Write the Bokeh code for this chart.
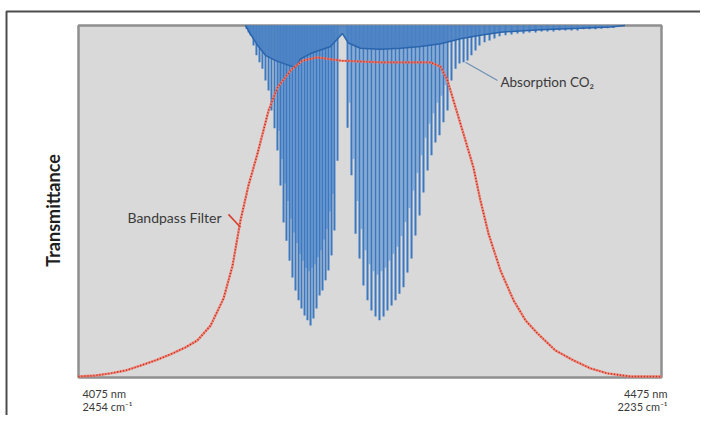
import numpy as np
from bokeh.plotting import figure
from bokeh.models import Range1d, Label
from bokeh.embed import file_html
from bokeh.resources import INLINE

# ---- Bandpass filter transmission curve (wavelength in nm, transmittance 0..1)
filter_nm = [4075.0, 4086.7, 4097.0, 4107.2, 4117.5, 4127.8, 4138.1, 4148.4, 4156.6, 4165.6,
             4174.5, 4180.7, 4186.1, 4191.6, 4197.8, 4205.4, 4211.5, 4220.5, 4228.7, 4239.0,
             4254.8, 4282.2, 4316.5, 4323.4, 4328.2, 4332.3, 4339.1, 4346.0, 4350.8, 4356.3,
             4364.5, 4373.5, 4381.7, 4389.9, 4402.3, 4414.6, 4426.3, 4437.9, 4453.7, 4475.0]
filter_T = [0.000, 0.003, 0.009, 0.017, 0.031, 0.046, 0.063, 0.083, 0.103, 0.145,
            0.222, 0.316, 0.444, 0.544, 0.635, 0.758, 0.823, 0.872, 0.900, 0.909,
            0.900, 0.895, 0.895, 0.883, 0.843, 0.786, 0.692, 0.595, 0.501, 0.407,
            0.302, 0.217, 0.160, 0.123, 0.074, 0.046, 0.023, 0.009, 0.000, 0.000]

# ---- CO2 absorption: strong rotational lines (position nm, transmittance at line centre)
line_nm = [4190.3, 4191.7, 4193.0, 4195.1, 4197.1, 4199.2, 4201.2, 4203.3, 4205.4, 4207.4,
           4209.5, 4211.5, 4213.6, 4215.7, 4217.7, 4219.8, 4221.8, 4223.9, 4226.0, 4228.0,
           4230.1, 4232.1, 4234.2, 4236.2, 4238.3, 4240.4, 4242.4, 4244.5, 4246.5, 4248.6,
           4250.6, 4252.7,
           4259.6, 4262.3, 4265.1, 4267.8, 4270.5, 4273.3, 4276.0, 4278.8, 4281.5, 4284.3,
           4287.0, 4289.8, 4292.5, 4295.2, 4298.0, 4300.7, 4303.5, 4306.2, 4309.0, 4311.7,
           4314.5, 4317.2, 4319.9, 4322.7, 4325.4, 4328.2, 4330.9, 4333.7, 4336.4, 4339.2,
           4341.9, 4344.6, 4347.4, 4350.1, 4353.6, 4357.0, 4360.4, 4363.9, 4368.0, 4372.1,
           4376.2, 4380.3, 4384.4, 4388.6, 4392.7, 4396.8, 4400.9, 4405.0, 4409.1, 4413.3,
           4417.4, 4421.5, 4425.6, 4429.7, 4433.8, 4438.0, 4442.0]
line_T = [0.990, 0.980, 0.972, 0.943, 0.915, 0.895, 0.877, 0.843, 0.815, 0.758,
          0.707, 0.644, 0.544, 0.439, 0.387, 0.330, 0.282, 0.245, 0.217, 0.194,
          0.174, 0.160, 0.145, 0.165, 0.194, 0.231, 0.245, 0.274, 0.302, 0.345,
          0.416, 0.615,
          0.709, 0.573, 0.407, 0.336, 0.259, 0.217, 0.188, 0.171, 0.160, 0.171,
          0.188, 0.202, 0.217, 0.236, 0.254, 0.296, 0.336, 0.402, 0.459, 0.524,
          0.587, 0.630, 0.667, 0.687, 0.724, 0.758, 0.843, 0.877, 0.892, 0.895,
          0.900, 0.915, 0.929, 0.943, 0.952, 0.957, 0.963, 0.969, 0.972, 0.974,
          0.977, 0.977, 0.980, 0.980, 0.983, 0.983, 0.983, 0.986, 0.986, 0.986,
          0.986, 0.989, 0.989, 0.989, 0.991, 0.992, 0.993]

# ---- weaker (hot-band) lines between the strong ones
weak_nm = [4212.6, 4214.6, 4216.7, 4218.7, 4220.8, 4222.9, 4224.9, 4227.0, 4229.0, 4231.1,
           4233.2, 4235.2, 4237.3, 4239.3, 4241.4, 4243.5, 4245.5, 4247.6, 4249.6,
           4261.0, 4263.7, 4266.4, 4269.2, 4271.9, 4274.7, 4277.4, 4280.2, 4282.9, 4285.6,
           4288.4, 4291.1, 4293.9, 4296.6, 4299.4, 4302.1, 4304.8, 4307.6, 4310.3, 4313.1,
           4315.8, 4318.6, 4321.3, 4324.0, 4326.8]
weak_T = [0.70, 0.62, 0.55, 0.50, 0.45, 0.41, 0.38, 0.35, 0.33, 0.31,
          0.30, 0.31, 0.32, 0.34, 0.36, 0.39, 0.42, 0.47, 0.52,
          0.78, 0.62, 0.50, 0.42, 0.36, 0.32, 0.30, 0.29, 0.30, 0.31,
          0.33, 0.35, 0.37, 0.40, 0.44, 0.48, 0.53, 0.58, 0.63, 0.68,
          0.72, 0.75, 0.78, 0.80, 0.83]

# ---- dense absorption envelope near 100 % transmittance
band_nm = [4189.6, 4193.0, 4198.5, 4203.3, 4210.2, 4217.0, 4223.9, 4227.3, 4234.2, 4241.0,
           4247.9, 4253.4, 4256.1, 4260.2, 4268.5, 4282.2, 4296.0, 4309.7, 4323.4, 4337.1,
           4350.8, 4364.5, 4392.0, 4419.4, 4440.0, 4450.0]
band_T = [1.000, 0.975, 0.940, 0.915, 0.900, 0.890, 0.880, 0.905, 0.920, 0.930,
          0.940, 0.965, 0.977, 0.950, 0.935, 0.932, 0.935, 0.940, 0.948, 0.962,
          0.972, 0.981, 0.988, 0.992, 0.996, 1.000]

# axis extent and end labels
x_ends = [4075.0, 4475.0]
start_labels = ["4075 nm", "2454 cm\u207b\u00b9"]
end_labels = ["4475 nm", "2235 cm\u207b\u00b9"]
y_title = "Transmittance"
filter_name = "Bandpass Filter"
absorb_name = "Absorption CO\u2082"

FONT = "Lato"
TXT = "#3a3a3a"

# the whole canvas is the data frame; the grey plotting area is drawn as a box
p = figure(width=700, height=415, min_border=0,
           x_range=Range1d(4021.48, 4501.76), y_range=Range1d(-0.1111, 1.0712),
           x_axis_type=None, y_axis_type=None,
           output_backend="svg", toolbar_location=None)
p.background_fill_color = "white"
p.border_fill_color = "white"
p.outline_line_color = None

# outer frame of the figure panel
p.line([4025.6, 4025.6, 4510.0], [-0.12, 1.0399, 1.0399], line_color="#4d4d4d", line_width=2)

# grey plotting area
p.quad(left=x_ends[0], right=x_ends[1], bottom=-0.003, top=1.0,
       fill_color="#d9d9d9", line_color="#8f8f8f", line_width=2.5)

# absorption lines
weak_top = np.ones(len(weak_nm))
p.segment(x0=weak_nm, y0=weak_top, x1=weak_nm, y1=weak_T, line_color="#86acd9", line_width=1.8)
line_top = np.ones(len(line_nm))
p.segment(x0=line_nm, y0=line_top, x1=line_nm, y1=line_T, line_color="#3b78c0", line_width=2.0)
# dense envelope at the top
p.varea(x=band_nm, y1=band_T, y2=np.ones(len(band_nm)), fill_color="#4a82c4", fill_alpha=0.9)
p.line(band_nm, band_T, line_color="#2a64ad", line_width=1.5)

# bandpass filter
p.line(filter_nm, filter_T, line_color="#f07a68", line_width=2.4, line_alpha=0.85)
p.line(filter_nm, filter_T, line_color="#c52418", line_width=1.6, line_dash="1 2")

# annotation leaders
p.line([4177.9, 4186.1], [0.462, 0.425], line_color="#d8402e", line_width=1.6)
p.line([4340.5, 4362.5], [0.895, 0.843], line_color="#6f8fb3", line_width=1.2)

p.add_layout(Label(x=4108.6, y=0.453, text=filter_name, text_align="left", text_baseline="middle",
                   text_font=FONT, text_font_size="14px", text_color=TXT))
p.add_layout(Label(x=4364.5, y=0.838, text=absorb_name, text_align="left", text_baseline="middle",
                   text_font=FONT, text_font_size="13.5px", text_color=TXT))
p.add_layout(Label(x=4057.8, y=0.473, text=y_title, angle=np.pi / 2, text_align="center",
                   text_baseline="middle", text_font=FONT, text_font_style="bold",
                   text_font_size="18px", text_color="#1e1e1e"))

for i, yv in enumerate([-0.049, -0.086]):
    p.add_layout(Label(x=x_ends[0] + 2.7, y=yv, text=start_labels[i], text_align="left",
                       text_baseline="middle", text_font=FONT, text_font_size="11px", text_color=TXT))
    p.add_layout(Label(x=x_ends[1] + 4.1, y=yv, text=end_labels[i], text_align="right",
                       text_baseline="middle", text_font=FONT, text_font_size="11px", text_color=TXT))

open("out.html", "w").write(file_html(p, INLINE))
